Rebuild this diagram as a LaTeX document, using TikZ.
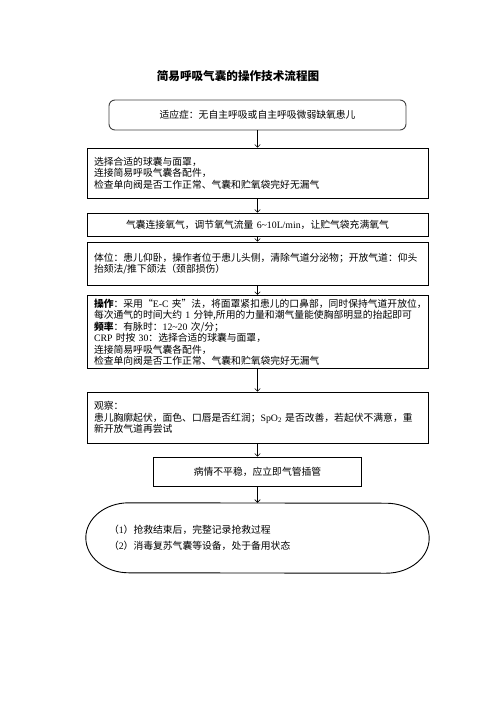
\documentclass[tikz,border=0pt]{standalone}
\usepackage{fontspec}
\setmainfont{Liberation Serif}
\newfontfamily\cjk{Noto Sans CJK SC}
\usepackage{tikz}
\usetikzlibrary{shapes,arrows}
\newcommand{\ltn}[1]{{\rmfamily #1}}

\begin{document}
\begin{tikzpicture}[x=1pt,y=-1pt]
	\useasboundingbox (0,0) rectangle (496,702);
	\tikzstyle{titre}=[font=\cjk\bfseries\fontsize{11.6}{14}\selectfont]
	\tikzstyle{indic}=[rectangle,draw=black!75,line width=0.9pt,rounded corners=6pt,
	minimum width=297pt,minimum height=30pt,font=\cjk\fontsize{9.8}{11.5}\selectfont]
	\tikzstyle{etape}=[rectangle,draw=black,line width=0.8pt,text width=327pt,
	inner xsep=7pt,align=left,font=\cjk\fontsize{9.8}{11.5}\selectfont]
	\tikzstyle{fin}=[rectangle,text width=297pt,inner xsep=23pt,inner ysep=0pt,
	minimum height=70pt,align=left,font=\cjk\fontsize{9.8}{16}\selectfont]

	\node[titre] (t) at (238,76) {简易呼吸气囊的操作技术流程图};
	\node[indic] (a1) at (257.5,115) {适应症：无自主呼吸或自主呼吸微弱缺氧患儿};
	\node[etape,minimum height=50pt] (a2) at (257.5,173) {选择合适的球囊与面罩，\\
	连接简易呼吸气囊各配件，\\检查单向阀是否工作正常、气囊和贮氧袋完好无漏气};
	\node[etape,minimum height=23pt,align=center] (a3) at (257.5,224.5) {气囊连接氧气，调节氧气流量
	\ltn{6\textasciitilde10L/min}，让贮气袋充满氧气};
	\node[etape,minimum height=43pt] (a4) at (257.5,263.5) {体位：患儿仰卧，操作者位于患儿头侧，清除气道分泌物；开放气道：仰头\\
	抬颏法/推下颌法（颈部损伤）};
	\node[etape,minimum height=72pt] (a5) at (257.5,332) {{\bfseries 操作}：采用“\ltn{E-C} 夹”法，将面罩紧扣患儿的口鼻部，同时保持气道开放位，\\
	每次通气的时间大约 \ltn{1} 分钟,所用的力量和潮气量能使胸部明显的抬起即可\\
	{\bfseries 频率}：有脉时：\ltn{12\textasciitilde20} 次/分；\\
	\ltn{CRP} 时按 \ltn{30}：选择合适的球囊与面罩，\\
	连接简易呼吸气囊各配件，\\检查单向阀是否工作正常、气囊和贮氧袋完好无漏气};
	\node[etape,minimum height=51pt] (a6) at (257.5,417.5) {观察：\\
	患儿胸廓起伏，面色、口唇是否红润；\ltn{SpO\textsubscript{2}} 是否改善，若起伏不满意，重\\
	新开放气道再尝试};
	\node[etape,text width=194pt,minimum height=29pt,align=center] (a7) at (257.5,471.5)
	{病情不平稳，应立即气管插管};
	\node[fin] (a8) at (257.5,538) {（\ltn{1}）抢救结束后，完整记录抢救过程\\
	（\ltn{2}）消毒复苏气囊等设备，处于备用状态};
	\draw[line width=0.9pt] ([xshift=43pt]a8.north west)
	arc[start angle=90,end angle=270,x radius=43pt,y radius=35pt]
	-- ([xshift=-43pt]a8.south east)
	arc[start angle=-90,end angle=90,x radius=43pt,y radius=35pt] -- cycle;

	\tikzstyle{suite}=[->,>=angle 90,line width=0.6pt]

	\draw[suite] (a1) -- (a2);
	\draw[suite] (a2) -- (a3);
	\draw[suite] (a3) -- (a4);
	\draw[suite] (a4) -- (a5);
	\draw[suite] (a5) -- (a6);
	\draw[suite] (a6) -- (a7);
	\draw[suite] (a7) -- (a8);
\end{tikzpicture}
\end{document}
